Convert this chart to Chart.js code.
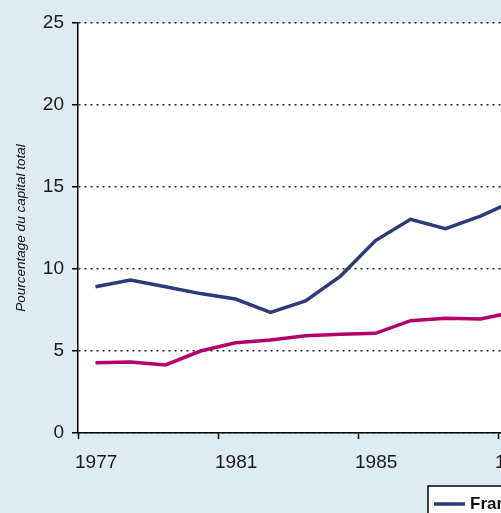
<!DOCTYPE html>
<html>
<head>
<meta charset="utf-8">
<script src="https://cdn.jsdelivr.net/npm/chart.js@4.4.1/dist/chart.umd.min.js"></script>
<style>
  html, body { margin: 0; padding: 0; background: #dfebf2; overflow: hidden; }
  #wrap { position: relative; width: 640px; height: 513px; }
</style>
</head>
<body>
<div id="wrap"><canvas id="chart"></canvas></div>
<script>
const years = [1977, 1978, 1979, 1980, 1981, 1982, 1983, 1984, 1985, 1986, 1987, 1988, 1989];
const france = [8.92, 9.33, 8.92, 8.5, 8.17, 7.36, 8.05, 9.57, 11.73, 13.03, 12.46, 13.23, 14.2];
const other = [4.29, 4.33, 4.15, 5.0, 5.5, 5.67, 5.93, 6.02, 6.08, 6.85, 6.99, 6.95, 7.39];
const seriesLabels = ['France', 'Royaume-Uni'];
const yTicks = [0, 5, 10, 15, 20, 25];
const xTicks = [1977, 1981, 1985, 1989];

const BLUE = '#2c3a78';
const PINK = '#b3006b';

// values sit in the middle of each year
const toPoints = vals => vals.map((v, i) => ({ x: years[i] + 0.5, y: v }));

// white plot area on the blue page
const plotBg = {
    id: 'plotBg',
    beforeDraw(chart) {
        const a = chart.chartArea;
        chart.ctx.save();
        chart.ctx.fillStyle = '#ffffff';
        chart.ctx.fillRect(a.left, a.top, a.right - a.left, a.bottom - a.top);
        chart.ctx.restore();
    }
};

// boxed legend, partly cut off by the window like in the reference
const boxLegend = {
    id: 'boxLegend',
    afterDraw(chart) {
        const ctx = chart.ctx;
        ctx.save();
        ctx.fillStyle = '#ffffff';
        ctx.strokeStyle = '#000000';
        ctx.lineWidth = 1.5;
        ctx.fillRect(428, 486, 200, 40);
        ctx.strokeRect(428, 486, 200, 40);
        let x = 434;
        chart.data.datasets.forEach(ds => {
            ctx.strokeStyle = ds.borderColor;
            ctx.lineWidth = 3.5;
            ctx.beginPath();
            ctx.moveTo(x, 504);
            ctx.lineTo(x + 31, 504);
            ctx.stroke();
            ctx.fillStyle = '#111';
            ctx.font = 'bold 17px "Liberation Sans", Arial, sans-serif';
            ctx.textBaseline = 'middle';
            ctx.fillText(ds.label, x + 36, 504);
            x += 36 + ctx.measureText(ds.label).width + 18;
        });
        ctx.restore();
    }
};

new Chart(document.getElementById('chart'), {
    type: 'line',
    data: {
        datasets: [{
            label: seriesLabels[0],
            data: toPoints(france),
            borderColor: BLUE,
            borderWidth: 3.5,
            pointRadius: 0,
            tension: 0,
        }, {
            label: seriesLabels[1],
            data: toPoints(other),
            borderColor: PINK,
            borderWidth: 3.5,
            pointRadius: 0,
            tension: 0,
        }]
    },
    options: {
        responsive: true,
        maintainAspectRatio: false,
        animation: false,
        layout: {
            padding: { top: 23, right: 37, bottom: 0, left: 0 }
        },
        plugins: {
            legend: { display: false },
            tooltip: { enabled: false },
            title: { display: false },
        },
        scales: {
            x: {
                type: 'linear',
                min: 1977,
                max: 1992,
                afterFit: s => { s.height = 80; },
                afterBuildTicks: s => { s.ticks = xTicks.map(v => ({ value: v })); },
                border: { display: true, color: '#000', width: 1.5 },
                grid: {
                    drawOnChartArea: false,
                    drawTicks: true,
                    tickLength: 6,
                    tickColor: '#000',
                    tickWidth: 1.5,
                },
                ticks: {
                    color: '#1a1a1a',
                    padding: 12,
                    align: 'start',
                    labelOffset: -3,
                    maxRotation: 0,
                    font: { family: '"Liberation Sans", Arial, sans-serif', size: 19 },
                    callback: v => String(v),
                }
            },
            y: {
                min: 0,
                max: 25,
                afterFit: s => { s.width = 78; },
                afterBuildTicks: s => { s.ticks = yTicks.map(v => ({ value: v })); },
                border: { display: true, color: '#000', width: 1.5, dash: [2, 4] },
                grid: {
                    color: '#222',
                    lineWidth: 1.5,
                    tickLength: 6,
                    tickColor: '#000',
                    tickWidth: 1.5,
                    tickBorderDash: [],
                },
                ticks: {
                    color: '#1a1a1a',
                    padding: 8,
                    font: { family: '"Liberation Sans", Arial, sans-serif', size: 19 },
                },
                title: {
                    display: true,
                    text: 'Pourcentage du capital total',
                    color: '#111',
                    padding: { top: 13, bottom: 0 },
                    font: { family: '"Liberation Sans", Arial, sans-serif', size: 13.5, style: 'italic' },
                }
            }
        }
    },
    plugins: [plotBg, boxLegend]
});
</script>
</body>
</html>
